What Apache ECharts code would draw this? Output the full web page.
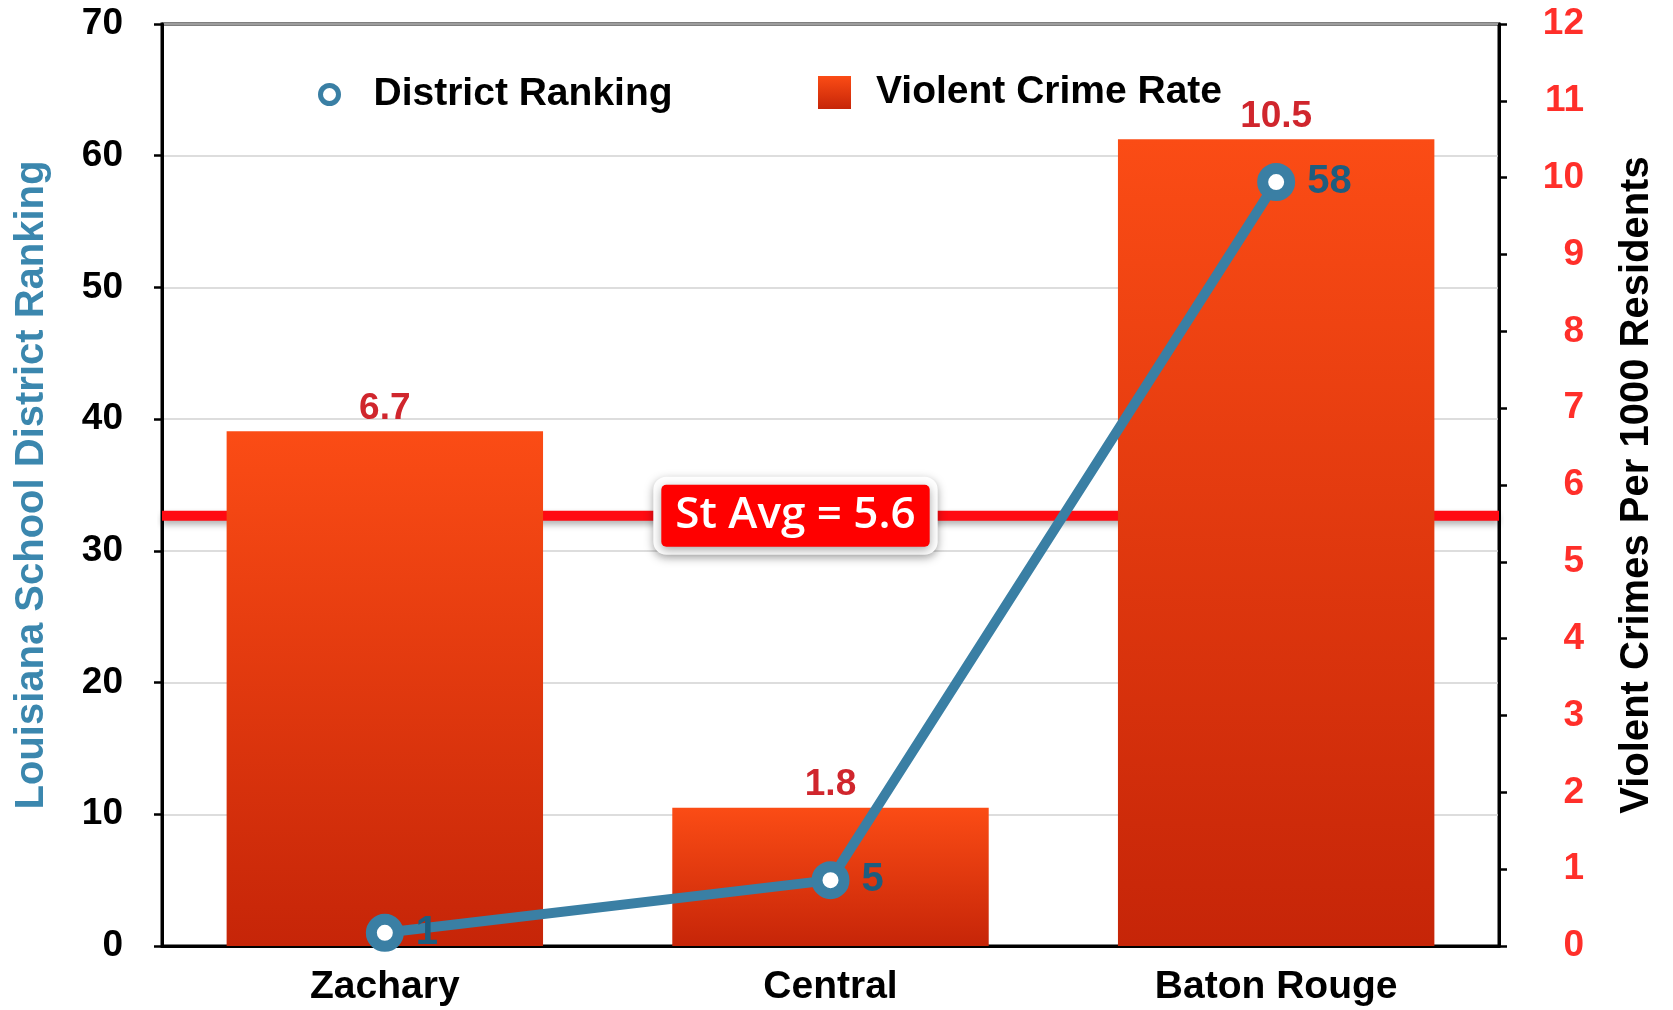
<!DOCTYPE html>
<html>
<head>
<meta charset="utf-8">
<script src="https://cdn.jsdelivr.net/npm/echarts@6/dist/echarts.min.js"></script>
<style>
html,body{margin:0;padding:0;background:#fff;}
#chart{width:1673px;height:1010px;}
</style>
</head>
<body>
<div id="chart"></div>
<script>
const categories = ['Zachary', 'Central', 'Baton Rouge'];
const districtRanking = [1, 5, 58];
const crimeRate = [6.7, 1.8, 10.5];
const stateAverage = 5.6;
const stateAverageLabel = 'St Avg = 5.6';
const leftAxisName = 'Louisiana School District Ranking';
const rightAxisName = 'Violent Crimes Per 1000 Residents';
const lineName = 'District Ranking';
const barName = 'Violent Crime Rate';

const FONT = '"Liberation Sans", Arial, Helvetica, sans-serif';
const chart = echarts.init(document.getElementById('chart'));

const barGradient = new echarts.graphic.LinearGradient(0, 0, 0, 1, [
  { offset: 0, color: '#fb4c15' },
  { offset: 1, color: '#c62508' }
]);

chart.setOption({
  animation: false,
  textStyle: { fontFamily: FONT },
  grid: {
    left: 162, right: 174, top: 24, bottom: 64,
    show: true, borderColor: '#000', borderWidth: 3, backgroundColor: 'transparent'
  },
  legend: [
    {
      data: [{ name: lineName, icon: 'circle', itemStyle: { borderWidth: 5 } }],
      left: 313, top: 70,
      itemWidth: 18, itemHeight: 18,
      textStyle: { fontFamily: FONT, fontSize: 39, fontWeight: 'bold', color: '#000', padding: [0, 0, 0, 30] }
    },
    {
      data: [{ name: barName, icon: 'rect' }],
      left: 813, top: 68,
      itemWidth: 33, itemHeight: 33,
      textStyle: { fontFamily: FONT, fontSize: 39, fontWeight: 'bold', color: '#000', padding: [0, 0, 0, 20] }
    }
  ],
  xAxis: [
    {
      type: 'category',
      data: categories,
      axisLine: { lineStyle: { color: '#000', width: 3 } },
      axisTick: { show: false },
      axisLabel: { fontFamily: FONT, fontSize: 39, fontWeight: 'bold', color: '#000', margin: 22 }
    },
    {
      type: 'value', min: 0, max: 1, show: false
    }
  ],
  yAxis: [
    {
      type: 'value', min: 0, max: 70, interval: 10, position: 'left',
      name: leftAxisName, nameLocation: 'middle', nameRotate: 90, nameGap: 110,
      nameTextStyle: { fontFamily: FONT, fontSize: 40, fontWeight: 'bold', color: '#3b87ae' },
      axisLine: { show: true, lineStyle: { color: '#000', width: 3 } },
      axisTick: { show: true, length: 8, lineStyle: { color: '#000', width: 2.5 } },
      axisLabel: { fontFamily: FONT, fontSize: 37, fontWeight: 'bold', color: '#000', margin: 39 },
      splitLine: { show: true, lineStyle: { color: '#d2d2d2', width: 1.5 } }
    },
    {
      type: 'value', min: 0, max: 12, interval: 1, position: 'right',
      name: rightAxisName, nameLocation: 'middle', nameRotate: 90, nameGap: 118,
      nameTextStyle: { fontFamily: FONT, fontSize: 40, fontWeight: 'bold', color: '#000' },
      axisLine: { show: true, lineStyle: { color: '#000', width: 3 } },
      axisTick: { show: true, length: 8, lineStyle: { color: '#000', width: 2.5 } },
      axisLabel: { fontFamily: FONT, fontSize: 37, fontWeight: 'bold', color: '#ff2f2a', margin: 85, align: 'right' },
      splitLine: { show: false }
    }
  ],
  series: [
    {
      name: 'avg',
      type: 'line',
      xAxisIndex: 1,
      yAxisIndex: 1,
      data: [[0, stateAverage], [1, stateAverage]],
      z: 1,
      symbol: 'none',
      silent: true,
      lineStyle: {
        color: '#ff0a12', width: 10, type: 'solid',
        shadowColor: 'rgba(0,0,0,0.3)', shadowBlur: 6, shadowOffsetY: 4
      },
      markLine: {
        silent: true,
        symbol: ['none', 'none'],
        data: [{ yAxis: stateAverage }],
        lineStyle: { width: 1, color: 'rgba(255,10,18,0)' },
        label: {
          show: true,
          position: 'middle',
          distance: 0,
          verticalAlign: 'middle',
          offset: [-35, 0],
          formatter: stateAverageLabel,
          fontFamily: '"Open Sans", "Noto Sans", sans-serif',
          fontSize: 44,
          fontWeight: 600,
          color: '#fff',
          backgroundColor: '#ff0000',
          padding: [10, 14, 8, 14],
          borderColor: '#fff',
          borderWidth: 8,
          borderRadius: 5,
          shadowColor: 'rgba(0,0,0,0.35)',
          shadowBlur: 10,
          shadowOffsetY: 3
        }
      }
    },
    {
      name: barName,
      type: 'bar',
      yAxisIndex: 1,
      data: crimeRate,
      barWidth: '71%',
      z: 3,
      itemStyle: { color: barGradient },
      label: {
        show: true, position: 'top', distance: 4,
        fontFamily: FONT, fontSize: 37, fontWeight: 'bold', color: '#d0262d'
      }
    },
    {
      name: lineName,
      type: 'line',
      yAxisIndex: 0,
      data: districtRanking,
      z: 4,
      symbol: 'circle',
      symbolSize: 27,
      lineStyle: { color: '#3a7fa4', width: 10 },
      itemStyle: { color: '#fff', borderColor: '#3a7fa4', borderWidth: 11 },
      label: {
        show: true, position: 'right', distance: 12,
        fontFamily: FONT, fontSize: 40, fontWeight: 'bold', color: '#1d5d7f'
      }
    }
  ]
});
</script>
</body>
</html>
